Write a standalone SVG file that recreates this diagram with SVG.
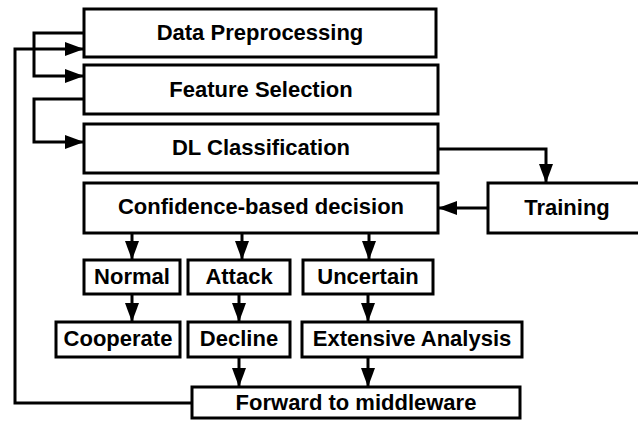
<svg xmlns="http://www.w3.org/2000/svg" width="638" height="421" viewBox="0 0 638 421">
<defs>
<marker id="ah" markerUnits="userSpaceOnUse" markerWidth="20" markerHeight="14" refX="19" refY="7" orient="auto">
<path d="M0,0 L19,7 L0,14 z" fill="#000"/>
</marker>
<style>
.box{fill:#fff;stroke:#000;stroke-width:3}
.t{font-family:"Liberation Sans",Arial,sans-serif;font-weight:bold;font-size:22px;fill:#000;text-anchor:middle}
.c{fill:none;stroke:#000;stroke-width:3}
</style>
</defs>
<rect width="638" height="421" fill="#fff"/>
<g id="connectors">
<polyline class="c" points="84,33 34,33 34,76 84,76" marker-end="url(#ah)"/>
<polyline class="c" points="84,99 34,99 34,142 84,142" marker-end="url(#ah)"/>
<polyline class="c" points="438,149 546,149 546,183" marker-end="url(#ah)"/>
<line class="c" x1="488" y1="208" x2="438" y2="208" marker-end="url(#ah)"/>
<line class="c" x1="132" y1="233" x2="132" y2="260" marker-end="url(#ah)"/>
<line class="c" x1="242" y1="233" x2="242" y2="260" marker-end="url(#ah)"/>
<line class="c" x1="369" y1="233" x2="369" y2="260" marker-end="url(#ah)"/>
<line class="c" x1="132" y1="294" x2="132" y2="322" marker-end="url(#ah)"/>
<line class="c" x1="239" y1="294" x2="239" y2="322" marker-end="url(#ah)"/>
<line class="c" x1="368" y1="294" x2="368" y2="322" marker-end="url(#ah)"/>
<line class="c" x1="239" y1="357" x2="239" y2="387" marker-end="url(#ah)"/>
<line class="c" x1="368" y1="357" x2="368" y2="387" marker-end="url(#ah)"/>
<polyline class="c" points="192,403 15,403 15,49 84,49" marker-end="url(#ah)"/>
</g>
<g id="data-preprocessing"><rect class="box" x="84" y="9" width="352" height="48"/><text class="t" x="260" y="40">Data Preprocessing</text></g>
<g id="feature-selection"><rect class="box" x="84" y="65" width="354" height="49"/><text class="t" x="261" y="97">Feature Selection</text></g>
<g id="dl-classification"><rect class="box" x="84" y="124" width="354" height="49"/><text class="t" x="261" y="155">DL Classification</text></g>
<g id="confidence"><rect class="box" x="84" y="183" width="354" height="50"/><text class="t" x="261" y="214">Confidence-based decision</text></g>
<g id="training"><rect class="box" x="488" y="183" width="160" height="50"/><text class="t" x="567" y="215">Training</text></g>
<g id="normal"><rect class="box" x="84" y="260" width="96" height="34"/><text class="t" x="132" y="284">Normal</text></g>
<g id="attack"><rect class="box" x="188" y="260" width="102" height="34"/><text class="t" x="239" y="284">Attack</text></g>
<g id="uncertain"><rect class="box" x="303" y="260" width="130" height="34"/><text class="t" x="368" y="284">Uncertain</text></g>
<g id="cooperate"><rect class="box" x="56" y="322" width="124" height="35"/><text class="t" x="118" y="346">Cooperate</text></g>
<g id="decline"><rect class="box" x="188" y="322" width="102" height="35"/><text class="t" x="239" y="346">Decline</text></g>
<g id="extensive-analysis"><rect class="box" x="302" y="322" width="220" height="35"/><text class="t" x="412" y="346">Extensive Analysis</text></g>
<g id="forward"><rect class="box" x="192" y="387" width="328" height="31"/><text class="t" x="356" y="410">Forward to middleware</text></g>
</svg>
